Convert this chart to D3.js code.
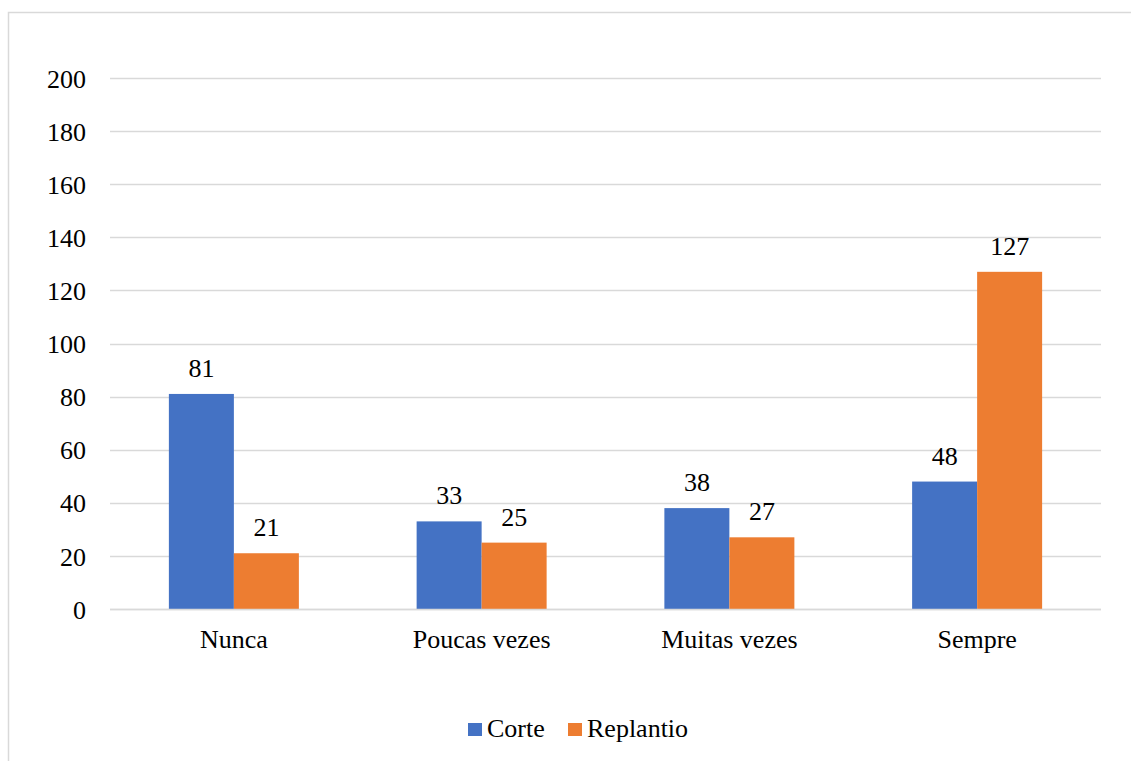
<!DOCTYPE html>
<html>
<head>
<meta charset="utf-8">
<script src="https://cdn.jsdelivr.net/npm/d3@7"></script>
<style>
  html, body { margin: 0; padding: 0; background: #fff; }
  svg { display: block; }
  svg text { font-family: "Liberation Serif", "Times New Roman", "DejaVu Serif", serif !important; }
</style>
</head>
<body>
<svg id="chart" width="1131" height="761"></svg>
<script>
const categories = ["Nunca", "Poucas vezes", "Muitas vezes", "Sempre"];
const seriesNames = ["Corte", "Replantio"];
const corte = [81, 33, 38, 48];
const replantio = [21, 25, 27, 127];
const yTicks = [0, 20, 40, 60, 80, 100, 120, 140, 160, 180, 200];
const colors = ["#4472C4", "#ED7D31"];

(function () {
const svg = d3.select("#chart");
const fs = 26;

// chart border
svg.append("rect")
  .attr("x", 8.5).attr("y", 12.5)
  .attr("width", 1140).attr("height", 780)
  .attr("fill", "none").attr("stroke", "#D9D9D9").attr("stroke-width", 1.5);

const plotLeft = 110, plotRight = 1101, plotTop = 78, plotBottom = 609;

const x0 = d3.scaleBand().domain(categories).range([plotLeft, plotRight]).paddingInner(0).paddingOuter(0);
const x1 = d3.scaleBand().domain(seriesNames).range([0, 130]);
const y = d3.scaleLinear().domain([0, 200]).range([plotBottom, plotTop]);

// gridlines
svg.append("g").selectAll("line").data(yTicks).join("line")
  .attr("x1", plotLeft).attr("x2", plotRight)
  .attr("y1", d => Math.round(y(d)) + 0.5).attr("y2", d => Math.round(y(d)) + 0.5)
  .attr("stroke", "#D9D9D9").attr("stroke-width", 1.3);

// y axis labels
const yAxis = d3.axisLeft(y).tickValues(yTicks).tickSize(0).tickPadding(0);
const yg = svg.append("g").attr("transform", `translate(86,0)`).call(yAxis);
yg.attr("font-family", null).attr("font-size", null);
yg.select(".domain").remove();
yg.selectAll("text")
  .attr("font-size", fs).attr("fill", "#000")
  .attr("dy", "0.35em");

// x axis labels
const xAxis = d3.axisBottom(x0).tickSize(0).tickPadding(0);
const xg = svg.append("g").attr("transform", `translate(0,${plotBottom})`).call(xAxis);
xg.attr("font-family", null).attr("font-size", null);
xg.select(".domain").remove();
xg.selectAll("text")
  .attr("font-size", fs).attr("fill", "#000")
  .attr("y", 39).attr("dy", 0);

const data = categories.map((c, i) => ({ cat: c, vals: [corte[i], replantio[i]] }));

const groups = svg.append("g").selectAll("g").data(data).join("g")
  .attr("transform", d => `translate(${x0(d.cat) + (x0.bandwidth() - 130) / 2},0)`);

groups.selectAll("rect").data(d => d.vals.map((v, j) => ({ s: seriesNames[j], v, j })))
  .join("rect")
  .attr("x", d => x1(d.s))
  .attr("width", x1.bandwidth())
  .attr("y", d => y(d.v))
  .attr("height", d => y(0) - y(d.v))
  .attr("fill", d => colors[d.j]);

groups.selectAll("text.lbl").data(d => d.vals.map((v, j) => ({ s: seriesNames[j], v, j })))
  .join("text").attr("class", "lbl")
  .attr("x", d => x1(d.s) + x1.bandwidth() / 2)
  .attr("y", d => y(d.v) - 17)
  .attr("text-anchor", "middle")
  .attr("font-size", fs).attr("fill", "#000")
  .text(d => d.v);

// zero line on top
svg.append("line")
  .attr("x1", plotLeft).attr("x2", plotRight)
  .attr("y1", plotBottom + 0.5).attr("y2", plotBottom + 0.5)
  .attr("stroke", "#D9D9D9").attr("stroke-width", 1.3);

// legend
const legendX = [468, 568];
const lg = svg.append("g").selectAll("g").data(seriesNames).join("g")
  .attr("transform", (d, i) => `translate(${legendX[i]},0)`);
lg.append("rect").attr("x", 0).attr("y", 723).attr("width", 14).attr("height", 13)
  .attr("fill", (d, i) => colors[i]);
lg.append("text").attr("x", 19).attr("y", 737)
  .attr("font-size", fs).attr("fill", "#000")
  .text(d => d);
})();
</script>
</body>
</html>
